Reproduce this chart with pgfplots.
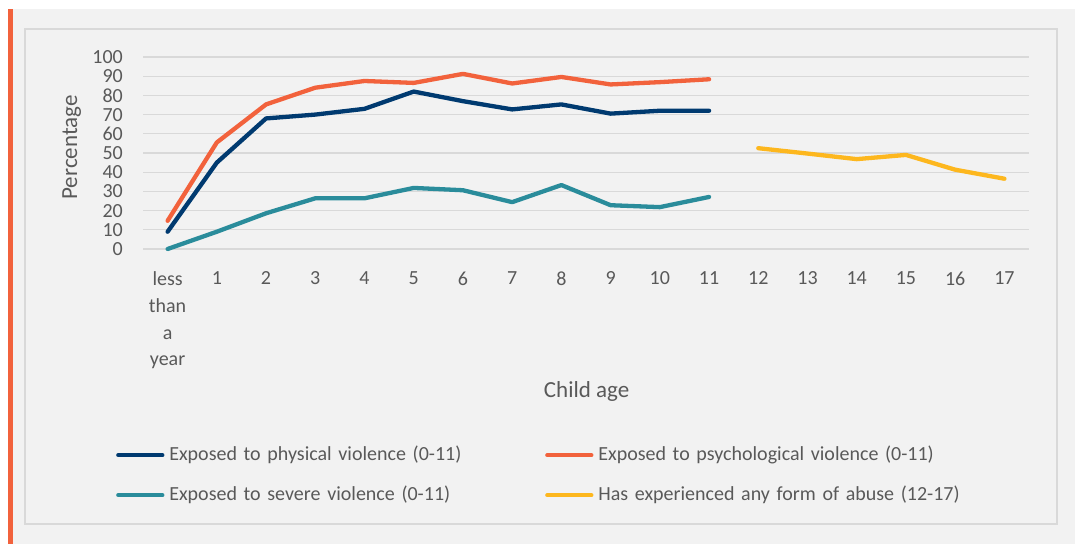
\documentclass[border=0pt]{standalone}
\usepackage{fontspec}
\setmainfont{Carlito}
\usepackage{pgfplots}
\pgfplotsset{compat=1.18}

\definecolor{physblue}{HTML}{003A70}
\definecolor{psyorange}{HTML}{F2623C}
\definecolor{sevteal}{HTML}{2A8C9B}
\definecolor{abuseyellow}{HTML}{FDB71E}
\definecolor{bggray}{HTML}{F2F2F2}
\definecolor{gridgray}{HTML}{D9D9D9}
\definecolor{textgray}{HTML}{595959}

\begin{document}
\begin{tikzpicture}[x=1bp,y=1bp]
\useasboundingbox (0,0) rectangle (1075,544);
\fill[white] (0,0) rectangle (1075,544);
\fill[bggray] (13,0) rectangle (1075,534.7);
\fill[psyorange] (8,0) rectangle (13,534.7);
\draw[gridgray, line width=1.3bp] (25,20) rectangle (1057,515);

\begin{axis}[
    at={(143bp,295bp)},
    anchor=south west,
    scale only axis,
    width=886bp,
    height=192bp,
    xmin=-0.5, xmax=17.5,
    ymin=0, ymax=100,
    clip=false,
    xtick={0,...,17},
    xticklabels={{less\\than\\a\\year},1,2,3,4,5,6,7,8,9,10,11,12,13,14,15,16,17},
    ytick={0,10,...,100},
    major tick length=0pt,
    axis line style={draw=none},
    ymajorgrids,
    grid style={gridgray, line width=1.3bp},
    /pgf/number format/assume math mode=true,
    every tick label/.append style={text=textgray, font=\fontsize{20bp}{26.7bp}\selectfont},
    x tick label style={anchor=north, inner sep=0pt, yshift=-22.7bp, align=center},
    y tick label style={anchor=east, inner sep=0pt, xshift=-20bp},
    xlabel={Child age},
    ylabel={Percentage},
    label style={text=textgray, font=\fontsize{23bp}{27bp}\selectfont},
    xlabel style={at={(axis description cs:0.5007,-0.743)}, anchor=center},
    ylabel style={at={(axis description cs:-0.0805,0.529)}, anchor=center, rotate=0},
    legend columns=2,
    legend style={
        at={(axis description cs:-0.0305,-1.026)},
        anchor=north west,
        draw=none, fill=none,
        inner sep=0pt,
        column sep=0pt,
        row sep=22bp,
        cells={anchor=west},
        nodes={text=textgray, font=\fontsize{20bp}{24bp}\selectfont,
               text width=371bp, align=left, text height=14bp, text depth=4bp,
               inner xsep=4.85bp, inner ysep=0pt},
    },
    legend image code/.code={\draw[#1, line cap=round] (0bp,0bp) -- (44bp,0bp);},
    every axis plot/.append style={line width=4.3bp, line cap=round, line join=round},
]

\addplot[physblue] coordinates {
(0,9) (1,45) (2,68) (3,70) (4,73) (5,82) (6,77) (7,72.7) (8,75.3) (9,70.5) (10,72) (11,72)};
\addlegendentry{Exposed to physical violence (0-11)}

\addplot[psyorange] coordinates {
(0,14.7) (1,55.5) (2,75.3) (3,84) (4,87.5) (5,86.5) (6,91.2) (7,86.2) (8,89.6) (9,85.7) (10,86.9) (11,88.4)};
\addlegendentry{Exposed to psychological violence (0-11)}

\addplot[sevteal] coordinates {
(0,0) (1,9) (2,18.6) (3,26.4) (4,26.4) (5,31.8) (6,30.6) (7,24.4) (8,33.3) (9,22.8) (10,21.8) (11,27.1)};
\addlegendentry{Exposed to severe violence (0-11)}

\addplot[abuseyellow] coordinates {
(12,52.5) (13,49.7) (14,46.8) (15,49) (16,41.3) (17,36.6)};
\addlegendentry{Has experienced any form of abuse (12-17)}

\end{axis}
\end{tikzpicture}
\end{document}
